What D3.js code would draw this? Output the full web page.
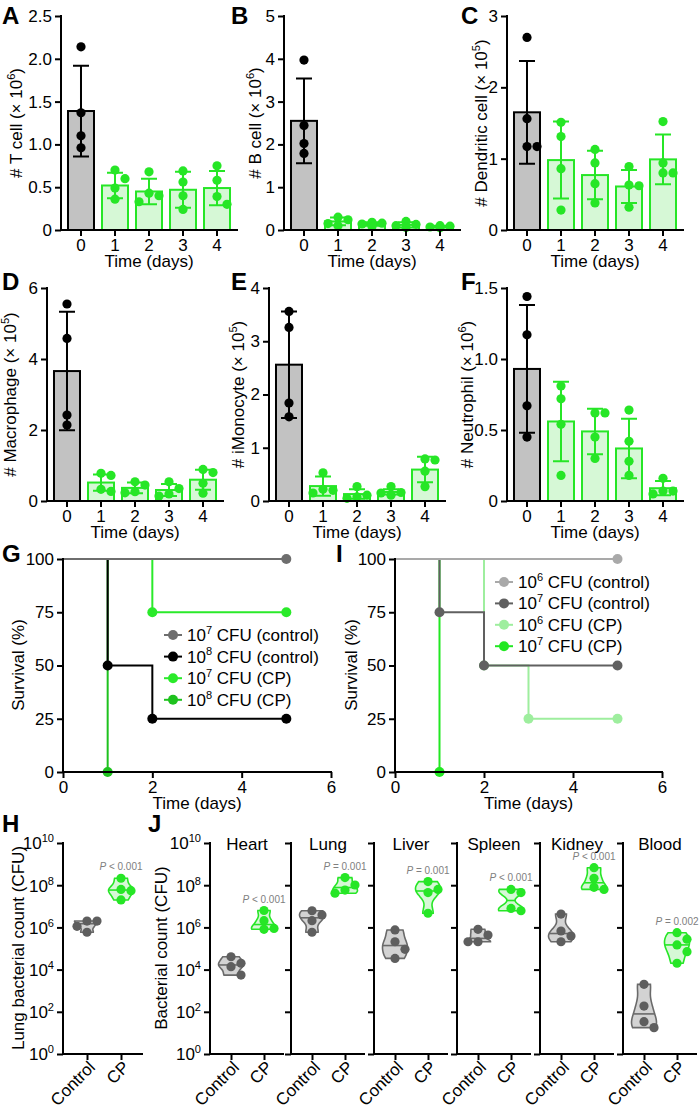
<!DOCTYPE html>
<html><head><meta charset="utf-8">
<script src="https://cdn.jsdelivr.net/npm/d3@7"></script>
<style>body{margin:0;background:#fff} svg{display:block;font-family:"Liberation Sans",Arial,Helvetica,sans-serif}</style>
</head><body><svg id="c" width="700" height="1110"></svg>
<script>
// ---------------- DATA ----------------
const days = ["0","1","2","3","4"];

const tcellMean = [1.39, 0.52, 0.45, 0.47, 0.49];
const tcellSD   = [0.53, 0.15, 0.15, 0.21, 0.20];
const tcellPts  = [[2.14,1.37,1.10,0.96],[0.70,0.60,0.49,0.36],[0.68,0.43,0.40,0.33],[0.69,0.56,0.40,0.24],[0.75,0.58,0.39,0.30]];
const tcellTicks = [0,0.5,1,1.5,2,2.5];

const bcellMean = [2.55, 0.20, 0.14, 0.12, 0.08];
const bcellSD   = [0.99, 0.09, 0.04, 0.06, 0.02];
const bcellPts  = [[3.97,2.44,2.02,1.79],[0.30,0.24,0.15,0.10],[0.18,0.16,0.14,0.08],[0.20,0.13,0.10,0.06],[0.10,0.09,0.07,0.05]];
const bcellTicks = [0,1,2,3,4,5];

const dcMean = [1.65, 0.98, 0.77, 0.61, 0.99];
const dcSD   = [0.72, 0.54, 0.34, 0.23, 0.35];
const dcPts  = [[2.70,1.56,1.17,1.17],[1.51,1.31,0.86,0.28],[1.13,0.94,0.65,0.38],[0.89,0.63,0.62,0.32],[1.52,0.94,0.80,0.80]];
const dcTicks = [0,1,2,3];

const macMean = [3.66, 0.52, 0.37, 0.31, 0.60];
const macSD   = [1.67, 0.23, 0.15, 0.17, 0.28];
const macPts  = [[5.55,4.58,2.42,2.14],[0.78,0.72,0.33,0.27],[0.54,0.45,0.26,0.23],[0.54,0.35,0.20,0.14],[0.89,0.80,0.50,0.22]];
const macTicks = [0,2,4,6];

const monoMean = [2.56, 0.28, 0.13, 0.17, 0.59];
const monoSD   = [1.00, 0.18, 0.09, 0.05, 0.24];
const monoPts  = [[3.56,3.26,1.84,1.58],[0.53,0.22,0.20,0.15],[0.27,0.11,0.08,0.05],[0.27,0.16,0.15,0.11],[0.79,0.77,0.56,0.27]];
const monoTicks = [0,1,2,3,4];

const neuMean = [0.93, 0.56, 0.49, 0.37, 0.09];
const neuSD   = [0.45, 0.28, 0.16, 0.21, 0.05];
const neuPts  = [[1.44,1.17,0.67,0.45],[0.81,0.72,0.54,0.18],[0.62,0.62,0.45,0.30],[0.64,0.42,0.28,0.18],[0.16,0.07,0.07,0.05]];
const neuTicks = [0,0.5,1,1.5];

// survival G
const survGNames = ["10^7 CFU (control)","10^8 CFU (control)","10^7 CFU (CP)","10^8 CFU (CP)"];
const survGColors = ["#6e6e6e","#000000","#2aea2a","#1ec21e"];
const survGTimes = [[0,5],[0,1,2,5],[0,2,5],[0,1]];
const survGPct   = [[100,100],[100,50,25,25],[100,75,75],[100,0]];
// survival I
const survINames = ["10^6 CFU (control)","10^7 CFU (control)","10^6 CFU (CP)","10^7 CFU (CP)"];
const survIColors = ["#a9a9a9","#606060","#9eee9e","#22e822"];
const survITimes = [[0,5],[0,1,2,5],[0,2,3,5],[0,1]];
const survIPct   = [[100,100],[100,75,50,50],[100,50,25,25],[100,0]];
const survYTicks = [0,25,50,75,100];
const survXTicks = [0,2,4,6];

// bacterial counts, log10 CFU
const groups = ["Control","CP"];
const lungH = {ctrl:[6.30,6.30,6.05,5.77], cp:[8.33,7.80,7.74,7.30], p:"< 0.001"};
const organs = ["Heart","Lung","Liver","Spleen","Kidney","Blood"];
const organCtrl = [[4.61,4.30,4.14,3.74],[6.79,6.59,6.32,5.77],[5.88,5.32,4.96,4.53],[5.91,5.64,5.32,5.32],[6.63,5.83,5.59,5.32],[3.30,2.27,1.53,1.25]];
const organCP   = [[6.80,6.32,5.95,5.91],[8.36,8.01,7.77,7.62],[8.17,7.80,7.65,6.67],[7.80,7.65,6.90,6.79],[8.83,8.33,7.90,7.80],[5.75,5.44,5.17,4.85,4.30]];
const organP    = ["< 0.001","= 0.001","= 0.001","< 0.001","< 0.001","= 0.002"];
const logTicks = [0,2,4,6,8,10];

// ---------------- STYLE ----------------
const svg = d3.select("#c");
const FS = 17;
const GREEN = "#26e626", GREEN_FILL = "#d6f8d6", GRAY_FILL = "#c2c2c2";
const VG_STROKE = "#6a6a6a", VG_FILL = "#d3d3d3", VG_PT = "#5e5e5e";

function addRich(text, str, fs) {
  const parts = str.split(/\^([0-9]+)/);
  let shifted = false;
  parts.forEach((p, i) => {
    if (i % 2 === 1) {
      text.append("tspan").attr("font-size", fs * 0.65).attr("dy", -fs * 0.42).text(p);
      shifted = true;
    } else if (p.length) {
      const t = text.append("tspan").text(p);
      if (shifted) { t.attr("dy", fs * 0.42); shifted = false; }
    }
  });
}
function styleAxis(a) {
  a.select(".domain").remove();
  a.selectAll(".tick line").attr("stroke", "#000").attr("stroke-width", 2);
  a.selectAll(".tick text").attr("font-size", FS).attr("fill", "#000")
    .attr("font-family", '"Liberation Sans",Arial,sans-serif');
}
function swarm(vals, yS, r, step) {
  const order = vals.map((v, i) => i).sort((a, b) => vals[b] - vals[a]);
  const placed = [], off = vals.map(() => 0);
  const cands = [0, step, -step];
  order.forEach(i => {
    const yy = yS(vals[i]);
    let best = 0, bestD = -1;
    for (const c of cands) {
      const dmin = placed.length ? d3.min(placed, p => Math.hypot(p.x - c, p.y - yy)) : Infinity;
      if (dmin >= 2 * r - 0.5) { best = c; break; }
      if (dmin > bestD) { bestD = dmin; best = c; }
    }
    off[i] = best; placed.push({x: best, y: yy});
  });
  return off;
}
function letter(x, y, s) {
  svg.append("text").attr("x", x).attr("y", y).attr("font-size", 24).attr("font-weight", "bold").text(s);
}
function yTitle(x, yc, str) {
  const t = svg.append("text").attr("transform", `translate(${x},${yc}) rotate(-90)`)
    .attr("text-anchor", "middle").attr("font-size", FS);
  addRich(t, str, FS);
}

// ---------------- BAR PANELS ----------------
function barPanel(o) {
  const g = svg.append("g");
  const W = 176;
  const x = d3.scaleBand().domain(days).range([o.x0, o.x0 + W]).paddingInner(0).paddingOuter(0.088);
  const y = d3.scaleLinear().domain([0, o.ticks[o.ticks.length - 1]]).range([o.yBot, o.yTop]);
  const cx = i => x(days[i]) + x.bandwidth() / 2;
  const bw = 26, cap = 8, r = 4.6;
  g.selectAll("rect").data(o.mean).join("rect")
    .attr("x", (d, i) => cx(i) - bw / 2).attr("y", d => y(d))
    .attr("width", bw).attr("height", d => o.yBot - y(d))
    .attr("fill", (d, i) => i === 0 ? GRAY_FILL : GREEN_FILL)
    .attr("stroke", (d, i) => i === 0 ? "#000" : GREEN).attr("stroke-width", 2);
  o.mean.forEach((m, i) => {
    const col = i === 0 ? "#000" : GREEN;
    const hi = y(m + o.sd[i]), lo = y(Math.max(0, m - o.sd[i]));
    g.append("path").attr("d", `M${cx(i)},${hi}V${lo}M${cx(i) - cap},${hi}H${cx(i) + cap}M${cx(i) - cap},${lo}H${cx(i) + cap}`)
      .attr("stroke", col).attr("stroke-width", 2).attr("fill", "none");
    const off = swarm(o.pts[i], y, r, 10);
    g.selectAll(null).data(o.pts[i]).join("circle")
      .attr("cx", (d, j) => cx(i) + off[j]).attr("cy", d => y(d)).attr("r", r)
      .attr("fill", col);
  });
  const ya = g.append("g").attr("transform", `translate(${o.x0},0)`)
    .call(d3.axisLeft(y).tickValues(o.ticks).tickFormat(o.fmt).tickSize(6).tickPadding(3));
  const xa = g.append("g").attr("transform", `translate(0,${o.yBot})`)
    .call(d3.axisBottom(x).tickSize(6).tickPadding(3));
  styleAxis(ya); styleAxis(xa);
  g.append("path").attr("d", `M${o.x0},${o.yTop}V${o.yBot}H${o.x0 + W}`)
    .attr("fill", "none").attr("stroke", "#000").attr("stroke-width", 2).attr("stroke-linecap", "square");
  yTitle(o.titleX, (o.yTop + o.yBot) / 2, o.title);
  svg.append("text").attr("x", o.x0 + 88).attr("y", o.yBot + 37).attr("text-anchor", "middle")
    .attr("font-size", FS).text("Time (days)");
  letter(o.lx, o.ly, o.letter);
}
const f1 = d => d === 0 ? "0" : d3.format(".1f")(d);
const f0 = d => String(d);
barPanel({x0: 61, yTop: 16, yBot: 230, ticks: tcellTicks, fmt: f1, mean: tcellMean, sd: tcellSD, pts: tcellPts, title: "# T cell (× 10^6)", titleX: 22, letter: "A", lx: 2, ly: 24});
barPanel({x0: 284, yTop: 16, yBot: 230, ticks: bcellTicks, fmt: f0, mean: bcellMean, sd: bcellSD, pts: bcellPts, title: "# B cell (× 10^6)", titleX: 261, letter: "B", lx: 231, ly: 24});
barPanel({x0: 507, yTop: 16, yBot: 230, ticks: dcTicks, fmt: f0, mean: dcMean, sd: dcSD, pts: dcPts, title: "# Dendritic cell (× 10^5)", titleX: 487, letter: "C", lx: 461, ly: 24});
barPanel({x0: 47, yTop: 288, yBot: 501, ticks: macTicks, fmt: f0, mean: macMean, sd: macSD, pts: macPts, title: "# Macrophage (× 10^5)", titleX: 16, letter: "D", lx: 2, ly: 290});
barPanel({x0: 269, yTop: 288, yBot: 501, ticks: monoTicks, fmt: f0, mean: monoMean, sd: monoSD, pts: monoPts, title: "# iMonocyte (× 10^5)", titleX: 244, letter: "E", lx: 231, ly: 290});
barPanel({x0: 507, yTop: 288, yBot: 501, ticks: neuTicks, fmt: f1, mean: neuMean, sd: neuSD, pts: neuPts, title: "# Neutrophil (× 10^6)", titleX: 473, letter: "F", lx: 461, ly: 290});

// ---------------- SURVIVAL ----------------
function survPanel(o) {
  const g = svg.append("g");
  const x = d3.scaleLinear().domain([0, 6]).range([o.x0, o.x0 + o.w]);
  const y = d3.scaleLinear().domain([0, 100]).range([772, 559]);
  const line = d3.line().x(d => x(d[0])).y(d => y(d[1])).curve(d3.curveStepAfter);
  for (let s = o.times.length - 1; s >= 0; s--) {
    const pts = o.times[s].map((t, j) => [t, o.pct[s][j]]);
    g.append("path").attr("d", line(pts)).attr("fill", "none").attr("stroke", o.colors[s]).attr("stroke-width", 2);
    g.selectAll(null).data(pts.slice(1)).join("circle")
      .attr("cx", d => x(d[0])).attr("cy", d => y(d[1])).attr("r", 5).attr("fill", o.colors[s]);
  }
  const ya = g.append("g").attr("transform", `translate(${o.x0},0)`)
    .call(d3.axisLeft(y).tickValues(survYTicks).tickSize(6).tickPadding(3));
  const xa = g.append("g").attr("transform", `translate(0,772)`)
    .call(d3.axisBottom(x).tickValues(survXTicks).tickFormat(d3.format("d")).tickSize(6).tickPadding(3));
  styleAxis(ya); styleAxis(xa);
  g.append("path").attr("d", `M${o.x0},559V772H${o.x0 + o.w}`)
    .attr("fill", "none").attr("stroke", "#000").attr("stroke-width", 2).attr("stroke-linecap", "square");
  yTitle(o.titleX, 665, "Survival (%)");
  svg.append("text").attr("x", o.x0 + o.w / 2).attr("y", 809).attr("text-anchor", "middle")
    .attr("font-size", FS).text("Time (days)");
  o.names.forEach((n, i) => {
    const yy = o.legY + i * o.legStep;
    g.append("line").attr("x1", o.legX - 9).attr("x2", o.legX + 9).attr("y1", yy).attr("y2", yy)
      .attr("stroke", o.colors[i]).attr("stroke-width", 2);
    g.append("circle").attr("cx", o.legX).attr("cy", yy).attr("r", 5).attr("fill", o.colors[i]);
    const t = g.append("text").attr("x", o.legX + 14).attr("y", yy + 6).attr("font-size", FS);
    addRich(t, n, FS);
  });
  letter(o.lx, 562, o.letter);
}
survPanel({x0: 63, w: 268, times: survGTimes, pct: survGPct, colors: survGColors, names: survGNames, titleX: 24, legX: 173, legY: 635, legStep: 21.6, letter: "G", lx: 2});
survPanel({x0: 395, w: 267, times: survITimes, pct: survIPct, colors: survIColors, names: survINames, titleX: 357, legX: 504, legY: 582, legStep: 21.4, letter: "I", lx: 336});

// ---------------- VIOLINS ----------------
const yLog = d3.scaleLog().domain([1, 1e10]).range([1054, 843]);
function violin(g, vals, cx, stroke, fill, ptCol) {
  const lo = d3.min(vals), hi = d3.max(vals), h = Math.max(0.1, (hi - lo) * 0.22);
  const dens = t => d3.sum(vals, v => Math.exp(-0.5 * ((t - v) / h) ** 2));
  const grid = d3.range(0, 41).map(i => lo + (hi - lo) * i / 40);
  const dv = grid.map(dens), m = d3.max(dv);
  const pts = grid.map((t, i) => [t, dv[i] / m * 12.5]);
  const area = d3.area().y(d => yLog(10 ** d[0])).x0(d => cx - d[1]).x1(d => cx + d[1]).curve(d3.curveBasis);
  g.append("path").attr("d", area(pts)).attr("fill", fill).attr("stroke", stroke).attr("stroke-width", 1.6);
  const med = d3.median(vals), hw = dens(med) / m * 12.5;
  g.append("line").attr("x1", cx - hw).attr("x2", cx + hw).attr("y1", yLog(10 ** med)).attr("y2", yLog(10 ** med))
    .attr("stroke", stroke).attr("stroke-width", 1.6);
  const ys = v => yLog(10 ** v);
  const off = swarm(vals, ys, 4.5, 10);
  g.selectAll(null).data(vals).join("circle")
    .attr("cx", (d, j) => cx + off[j]).attr("cy", d => ys(d)).attr("r", 4.6).attr("fill", ptCol);
}
function violinPanel(o) {
  const g = svg.append("g");
  const x = d3.scalePoint().domain(groups).range([o.x0 + o.c0, o.x0 + o.c1]);
  violin(g, o.ctrl, x("Control"), VG_STROKE, VG_FILL, VG_PT);
  violin(g, o.cp, x("CP"), GREEN, GREEN_FILL, GREEN);
  const pt = g.append("text").attr("x", x("CP")).attr("y", yLog(10 ** d3.max(o.cp)) - 8)
    .attr("text-anchor", "middle").attr("font-size", 10).attr("fill", "#808080");
  pt.append("tspan").attr("font-style", "italic").text("P");
  pt.append("tspan").text(" " + o.p);
  const ya = g.append("g").attr("transform", `translate(${o.x0},0)`)
    .call(d3.axisLeft(yLog).tickValues(logTicks.map(k => 10 ** k)).tickSize(6).tickPadding(3).tickFormat(""));
  styleAxis(ya);
  if (o.labels) {
    ya.selectAll(".tick").each(function(d) {
      const t = d3.select(this).select("text").attr("dy", "0.35em");
      t.text(null);
      addRich(t, "10^" + Math.round(Math.log10(d)), FS);
    });
  }
  const xa = g.append("g").attr("transform", `translate(0,1054)`)
    .call(d3.axisBottom(x).tickSize(6).tickFormat(""));
  styleAxis(xa);
  groups.forEach(gr => {
    g.append("text").attr("transform", `translate(${x(gr) + 5},${1064}) rotate(-45)`)
      .attr("text-anchor", "end").attr("dy", "0.35em").attr("font-size", FS).text(gr);
  });
  g.append("path").attr("d", `M${o.x0},843V1054H${o.x0 + o.w}`)
    .attr("fill", "none").attr("stroke", "#000").attr("stroke-width", 2).attr("stroke-linecap", "square");
  if (o.title) svg.append("text").attr("x", o.x0 + 37).attr("y", 850).attr("text-anchor", "middle").attr("font-size", FS).text(o.title);
}
violinPanel({x0: 63, w: 79, c0: 24, c1: 58, ctrl: lungH.ctrl, cp: lungH.cp, p: lungH.p, labels: true});
yTitle(24, 948, "Lung bacterial count (CFU)");
letter(2, 832, "H");
const jX0 = [210, 291, 374, 457, 540, 623];
organs.forEach((o, i) => {
  violinPanel({x0: jX0[i], w: 73, c0: 21, c1: 54, ctrl: organCtrl[i], cp: organCP[i], p: organP[i], labels: i === 0, title: o});
});
yTitle(167, 948, "Bacterial count (CFU)");
letter(148, 832, "J");
</script></body></html>
